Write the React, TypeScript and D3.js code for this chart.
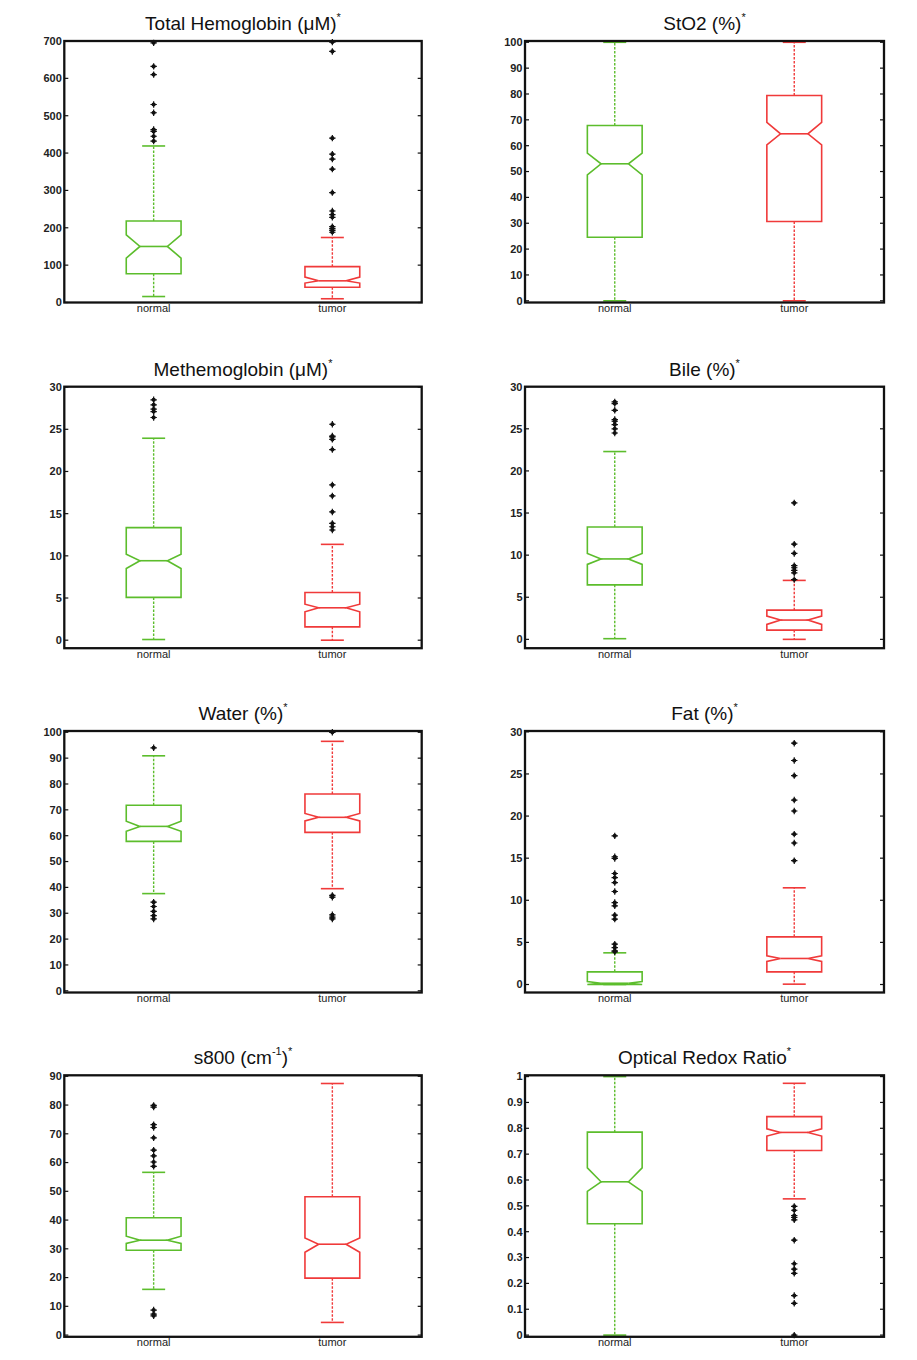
import React from "react";
import * as d3 from "d3";

// Tissue groups along every x axis
const groups = ["normal", "tumor"];

type BoxStat = {
  whiskerLo: number;
  q1: number;
  notchLo: number;
  median: number;
  notchHi: number;
  q3: number;
  whiskerHi: number;
  outliers: number[];
};

// Box statistics per parameter: [normal, tumor]
const totalHemoglobin: BoxStat[] = [
  { whiskerLo: 16, q1: 77, notchLo: 119, median: 150, notchHi: 181, q3: 218, whiskerHi: 419,
    outliers: [695, 632, 610, 530, 508, 463, 458, 445, 432] },
  { whiskerLo: 10, q1: 41, notchLo: 52, median: 58, notchHi: 68, q3: 96, whiskerHi: 174,
    outliers: [697, 672, 440, 397, 384, 357, 294, 245, 235, 228, 203, 198, 193, 188] },
];

const stO2: BoxStat[] = [
  { whiskerLo: 0, q1: 24.6, notchLo: 48.7, median: 53.0, notchHi: 57.1, q3: 67.8, whiskerHi: 100, outliers: [] },
  { whiskerLo: 0, q1: 30.7, notchLo: 60.3, median: 64.6, notchHi: 69.0, q3: 79.4, whiskerHi: 100, outliers: [] },
];

const methemoglobin: BoxStat[] = [
  { whiskerLo: 0.08, q1: 5.07, notchLo: 8.5, median: 9.42, notchHi: 10.2, q3: 13.34, whiskerHi: 23.94,
    outliers: [28.5, 27.9, 27.4, 27.1, 26.4] },
  { whiskerLo: 0, q1: 1.58, notchLo: 3.36, median: 3.84, notchHi: 4.27, q3: 5.66, whiskerHi: 11.36,
    outliers: [25.6, 24.2, 24.1, 23.8, 22.6, 18.4, 17.1, 15.2, 13.85, 13.45, 13.06] },
];

const bile: BoxStat[] = [
  { whiskerLo: 0.08, q1: 6.47, notchLo: 8.9, median: 9.55, notchHi: 10.2, q3: 13.34, whiskerHi: 22.3,
    outliers: [28.2, 28.0, 27.2, 26.1, 25.9, 25.5, 25.0, 24.5] },
  { whiskerLo: 0, q1: 1.1, notchLo: 1.78, median: 2.29, notchHi: 2.76, q3: 3.47, whiskerHi: 7.0,
    outliers: [16.2, 11.3, 10.2, 8.76, 8.5, 8.2, 7.9, 7.1] },
];

const water: BoxStat[] = [
  { whiskerLo: 37.6, q1: 57.8, notchLo: 61.7, median: 63.6, notchHi: 65.6, q3: 71.8, whiskerHi: 90.9,
    outliers: [94.0, 34.3, 32.6, 30.7, 29.1, 27.8] },
  { whiskerLo: 39.5, q1: 61.3, notchLo: 65.7, median: 67.1, notchHi: 68.6, q3: 76.1, whiskerHi: 96.5,
    outliers: [100, 36.9, 36.2, 29.4, 28.5, 27.8] },
];

const fat: BoxStat[] = [
  { whiskerLo: 0, q1: 0, notchLo: 0, median: 0.15, notchHi: 0.35, q3: 1.5, whiskerHi: 3.76,
    outliers: [17.65, 15.16, 14.96, 13.18, 12.7, 12.1, 11.04, 9.73, 9.34, 8.23, 7.76, 4.79, 4.39, 4.0, 3.88] },
  { whiskerLo: 0.04, q1: 1.5, notchLo: 2.73, median: 3.09, notchHi: 3.4, q3: 5.66, whiskerHi: 11.48,
    outliers: [28.65, 26.6, 24.8, 21.9, 20.6, 17.85, 16.8, 14.7] },
];

const s800: BoxStat[] = [
  { whiskerLo: 15.9, q1: 29.5, notchLo: 31.9, median: 33.0, notchHi: 34.4, q3: 40.8, whiskerHi: 56.6,
    outliers: [79.9, 79.3, 73.2, 72.2, 68.6, 64.3, 62.3, 60.2, 58.7, 8.7, 7.3, 6.7] },
  { whiskerLo: 4.4, q1: 19.8, notchLo: 28.8, median: 31.6, notchHi: 33.8, q3: 48.1, whiskerHi: 87.5, outliers: [] },
];

const redoxRatio: BoxStat[] = [
  { whiskerLo: 0, q1: 0.431, notchLo: 0.556, median: 0.593, notchHi: 0.647, q3: 0.785, whiskerHi: 1, outliers: [] },
  { whiskerLo: 0.527, q1: 0.714, notchLo: 0.77, median: 0.784, notchHi: 0.798, q3: 0.845, whiskerHi: 0.974,
    outliers: [0.498, 0.483, 0.462, 0.455, 0.446, 0.367, 0.276, 0.255, 0.239, 0.153, 0.123, 0.0] },
];

// Title pieces: [text, superscript]
type Part = { text: string; sup?: boolean };
const titles: Part[][] = [
  [{ text: "Total Hemoglobin (\u03bcM)" }, { text: "*", sup: true }],
  [{ text: "StO2 (%)" }, { text: "*", sup: true }],
  [{ text: "Methemoglobin (\u03bcM)" }, { text: "*", sup: true }],
  [{ text: "Bile (%)" }, { text: "*", sup: true }],
  [{ text: "Water (%)" }, { text: "*", sup: true }],
  [{ text: "Fat (%)" }, { text: "*", sup: true }],
  [{ text: "s800 (cm" }, { text: "-1", sup: true }, { text: ")" }, { text: "*", sup: true }],
  [{ text: "Optical Redox Ratio" }, { text: "*", sup: true }],
];

// Y axis tick values and limits
const ticks0to700 = d3.range(0, 701, 100);
const ticks0to100 = d3.range(0, 101, 10);
const ticks0to30 = d3.range(0, 31, 5);
const ticks0to90 = d3.range(0, 91, 10);
const ticks0to1 = d3.range(0, 11).map((d) => d / 10);

const yLimits: [number, number][] = [
  [0, 700],
  [-0.66, 100.5],
  [-0.95, 30.05],
  [-1.05, 30],
  [-0.66, 100.5],
  [-0.95, 30.1],
  [-0.6, 90.35],
  [-0.0066, 1.005],
];

const panelStats = [totalHemoglobin, stO2, methemoglobin, bile, water, fat, s800, redoxRatio];
const panelTicks = [ticks0to700, ticks0to100, ticks0to30, ticks0to30, ticks0to100, ticks0to30, ticks0to90, ticks0to1];

const COLORS = ["#5cbd2c", "#f03a3a"];
const FONT = "'Liberation Sans', Arial, Helvetica, sans-serif";

const colLeft = [64.3, 525];
const colWidth = [357.4, 359];
const rowTop = [41, 386.7, 731, 1075.3];
const plotH = 261.5;

const BOX_HALF = 27.4;
const CAP_HALF = 11.5;

function fmtTick(v: number) {
  return String(+v.toFixed(1));
}

function Outlier({ x, y }: { x: number; y: number }) {
  return (
    <g>
      <circle cx={x} cy={y} r={2.1} fill="#111" />
      <path d={`M${x - 3.2},${y}H${x + 3.2}M${x},${y - 3.2}V${y + 3.2}`} stroke="#111" strokeWidth={1.2} />
    </g>
  );
}

function Panel({ index }: { index: number }) {
  const col = index % 2;
  const row = Math.floor(index / 2);
  const left = colLeft[col];
  const width = colWidth[col];
  const top = rowTop[row];
  const bottom = top + plotH;
  const x = d3.scaleLinear().domain([0.5, 2.5]).range([left, left + width]);
  const y = d3.scaleLinear().domain(yLimits[index]).range([bottom, top]);
  const stats = panelStats[index];
  const cx = left + width / 2;

  return (
    <g>
      {/* title */}
      <text x={cx} y={top - 11} textAnchor="middle" fontFamily={FONT} fontSize={19} fill="#111">
        {titles[index].map((p, i) =>
          p.sup ? (
            <tspan key={i} dy={-9} fontSize={11}>
              {p.text}
            </tspan>
          ) : (
            <tspan key={i} dy={i > 0 && titles[index][i - 1].sup ? 9 : 0}>
              {p.text}
            </tspan>
          )
        )}
      </text>

      {/* boxes */}
      {stats.map((s, i) => {
        const xc = x(i + 1);
        const color = COLORS[i];
        const w = BOX_HALF;
        const outline = d3.line()([
          [xc - w, y(s.q1)],
          [xc - w, y(s.notchLo)],
          [xc - w / 2, y(s.median)],
          [xc - w, y(s.notchHi)],
          [xc - w, y(s.q3)],
          [xc + w, y(s.q3)],
          [xc + w, y(s.notchHi)],
          [xc + w / 2, y(s.median)],
          [xc + w, y(s.notchLo)],
          [xc + w, y(s.q1)],
        ]) + "Z";
        return (
          <g key={i}>
            <line x1={xc} x2={xc} y1={y(s.q3)} y2={y(s.whiskerHi)} stroke={color} strokeWidth={1.4} strokeDasharray="2.5,1.5" />
            <line x1={xc} x2={xc} y1={y(s.q1)} y2={y(s.whiskerLo)} stroke={color} strokeWidth={1.4} strokeDasharray="2.5,1.5" />
            <line x1={xc - CAP_HALF} x2={xc + CAP_HALF} y1={y(s.whiskerHi)} y2={y(s.whiskerHi)} stroke={color} strokeWidth={1.6} />
            <line x1={xc - CAP_HALF} x2={xc + CAP_HALF} y1={y(s.whiskerLo)} y2={y(s.whiskerLo)} stroke={color} strokeWidth={1.6} />
            <path d={outline} fill="none" stroke={color} strokeWidth={1.6} strokeLinejoin="miter" />
            <line x1={xc - w / 2} x2={xc + w / 2} y1={y(s.median)} y2={y(s.median)} stroke={color} strokeWidth={1.6} />
            {s.outliers.map((o, k) => (
              <Outlier key={k} x={xc} y={y(o)} />
            ))}
          </g>
        );
      })}

      {/* frame */}
      <rect x={left} y={top} width={width} height={plotH} fill="none" stroke="#111" strokeWidth={2.3} />

      {/* y ticks, inward on both sides */}
      {panelTicks[index].map((t) => (
        <g key={t}>
          <line x1={left} x2={left + 4} y1={y(t)} y2={y(t)} stroke="#111" strokeWidth={1.2} />
          <line x1={left + width - 4} x2={left + width} y1={y(t)} y2={y(t)} stroke="#111" strokeWidth={1.2} />
          <text x={left - 2.5} y={y(t)} dy="0.35em" textAnchor="end" fontFamily={FONT} fontSize={11} fontWeight="bold" fill="#222">
            {fmtTick(t)}
          </text>
        </g>
      ))}

      {/* x tick labels */}
      {groups.map((g, i) => (
        <text key={g} x={x(i + 1)} y={bottom + 9.5} textAnchor="middle" fontFamily={FONT} fontSize={11} fill="#222">
          {g}
        </text>
      ))}
    </g>
  );
}

export default function App() {
  return (
    <svg
      width={917}
      height={1360}
      viewBox="0 0 917 1360"
      style={{ position: "absolute", left: 0, top: 0, background: "#fff" }}
    >
      <rect width={917} height={1360} fill="#fff" />
      {panelStats.map((_, i) => (
        <Panel key={i} index={i} />
      ))}
    </svg>
  );
}
